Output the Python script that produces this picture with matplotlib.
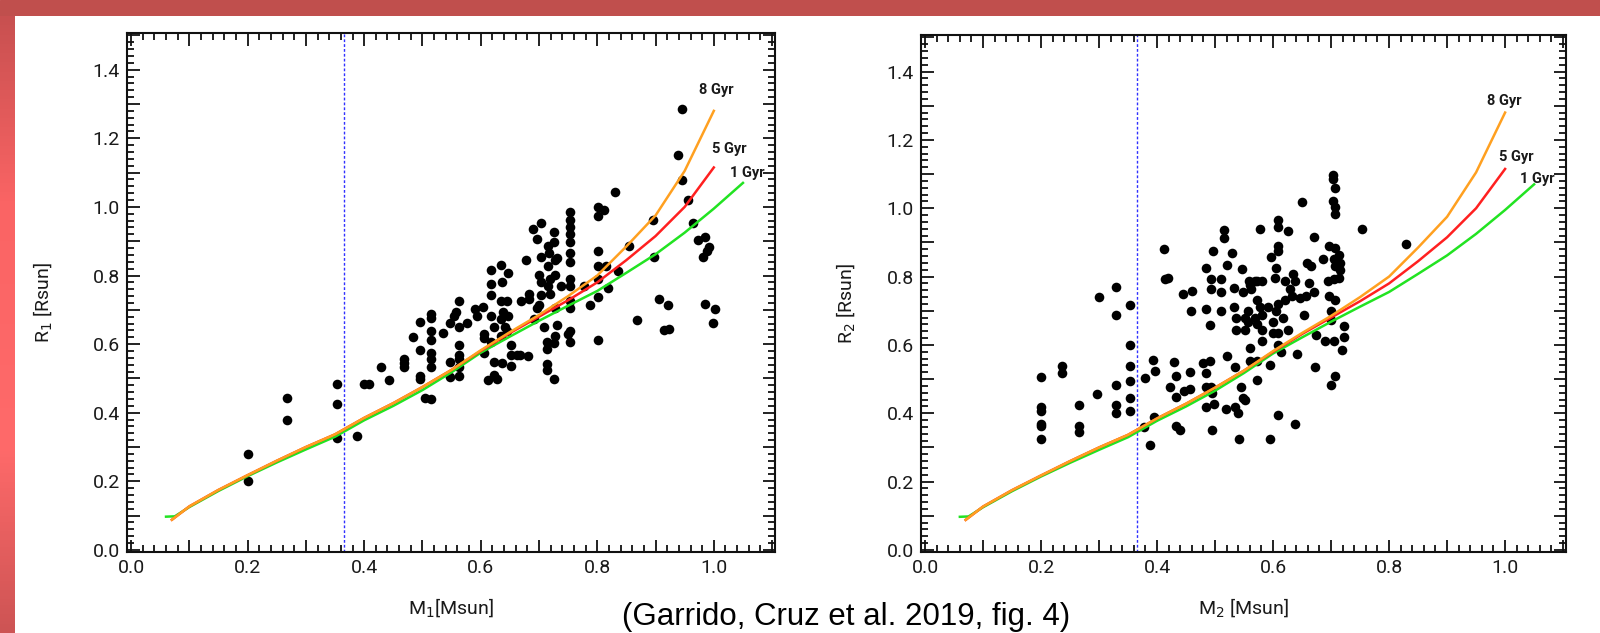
import numpy as np
import matplotlib
matplotlib.use("Agg")
import matplotlib.pyplot as plt
from matplotlib.ticker import MultipleLocator, FuncFormatter

# ---- data ----
# primary: mass M1 [Msun], radius R1 [Rsun]
m1 = [0.200, 0.200, 0.267, 0.267, 0.354, 0.354, 0.354, 0.388, 0.400, 0.408,
      0.429, 0.442, 0.469, 0.469, 0.469, 0.483, 0.495, 0.495, 0.495, 0.495,
      0.505, 0.515, 0.515, 0.515, 0.515, 0.515, 0.515, 0.515, 0.515, 0.535,
      0.548, 0.548, 0.554, 0.558, 0.562, 0.562, 0.562, 0.562, 0.562, 0.562,
      0.562, 0.548, 0.577, 0.591, 0.594, 0.604, 0.606, 0.606, 0.606, 0.612,
      0.618, 0.618, 0.618, 0.618, 0.623, 0.618, 0.622, 0.623, 0.628, 0.635,
      0.636, 0.635, 0.638, 0.635, 0.641, 0.635, 0.636, 0.646, 0.645, 0.646,
      0.645, 0.652, 0.652, 0.652, 0.662, 0.668, 0.669, 0.677, 0.681, 0.683,
      0.683, 0.690, 0.696, 0.704, 0.704, 0.700, 0.704, 0.704, 0.700, 0.696,
      0.692, 0.708, 0.713, 0.713, 0.713, 0.713, 0.715, 0.717, 0.715, 0.719,
      0.715, 0.719, 0.725, 0.725, 0.727, 0.727, 0.727, 0.731, 0.727, 0.725,
      0.725, 0.731, 0.738, 0.750, 0.754, 0.754, 0.754, 0.754, 0.754, 0.754,
      0.754, 0.754, 0.754, 0.754, 0.754, 0.754, 0.754, 0.777, 0.788, 0.802,
      0.802, 0.802, 0.802, 0.802, 0.802, 0.802, 0.812, 0.815, 0.819, 0.831,
      0.835, 0.854, 0.869, 0.896, 0.898, 0.906, 0.914, 0.923, 0.922, 0.938,
      0.945, 0.946, 0.956, 0.965, 0.973, 0.985, 0.981, 0.988, 0.992, 0.985,
      1.002, 0.998]
r1 = [0.280, 0.200, 0.443, 0.378, 0.485, 0.424, 0.327, 0.331, 0.485, 0.483,
      0.532, 0.496, 0.558, 0.544, 0.532, 0.621, 0.582, 0.664, 0.508, 0.499,
      0.443, 0.440, 0.688, 0.677, 0.639, 0.612, 0.575, 0.558, 0.532, 0.631,
      0.663, 0.548, 0.682, 0.693, 0.726, 0.650, 0.596, 0.569, 0.558, 0.532,
      0.507, 0.505, 0.661, 0.701, 0.682, 0.709, 0.629, 0.618, 0.575, 0.494,
      0.817, 0.774, 0.742, 0.682, 0.650, 0.607, 0.548, 0.510, 0.497, 0.831,
      0.780, 0.726, 0.693, 0.672, 0.650, 0.623, 0.546, 0.808, 0.726, 0.682,
      0.639, 0.596, 0.569, 0.535, 0.569, 0.569, 0.726, 0.844, 0.566, 0.747,
      0.731, 0.936, 0.907, 0.952, 0.855, 0.801, 0.780, 0.742, 0.715, 0.704,
      0.672, 0.650, 0.607, 0.585, 0.542, 0.526, 0.887, 0.866, 0.828, 0.790,
      0.769, 0.747, 0.927, 0.898, 0.844, 0.801, 0.704, 0.656, 0.623, 0.602,
      0.499, 0.850, 0.769, 0.629, 0.984, 0.963, 0.941, 0.920, 0.898, 0.866,
      0.839, 0.790, 0.769, 0.726, 0.704, 0.639, 0.607, 0.769, 0.715, 1.000,
      0.974, 0.871, 0.828, 0.790, 0.736, 0.612, 0.990, 0.828, 0.763, 1.044,
      0.812, 0.887, 0.670, 0.963, 0.855, 0.731, 0.642, 0.645, 0.713, 1.151,
      1.079, 1.286, 1.020, 0.952, 0.904, 0.911, 0.855, 0.871, 0.882, 0.718,
      0.701, 0.661]

# secondary: mass M2 [Msun], radius R2 [Rsun]
m2 = [0.200, 0.200, 0.200, 0.200, 0.200, 0.200, 0.236, 0.236, 0.265, 0.265,
      0.265, 0.296, 0.300, 0.329, 0.329, 0.329, 0.329, 0.329, 0.353, 0.353,
      0.353, 0.353, 0.353, 0.353, 0.379, 0.377, 0.388, 0.394, 0.393, 0.397,
      0.412, 0.414, 0.419, 0.422, 0.430, 0.432, 0.432, 0.432, 0.440, 0.445,
      0.446, 0.457, 0.457, 0.458, 0.460, 0.479, 0.485, 0.485, 0.485, 0.485,
      0.485, 0.491, 0.491, 0.493, 0.493, 0.493, 0.495, 0.495, 0.497, 0.499,
      0.510, 0.510, 0.511, 0.515, 0.515, 0.520, 0.521, 0.518, 0.529, 0.532,
      0.532, 0.534, 0.534, 0.536, 0.536, 0.540, 0.542, 0.544, 0.546, 0.548,
      0.548, 0.551, 0.552, 0.552, 0.556, 0.556, 0.559, 0.561, 0.562, 0.561,
      0.561, 0.568, 0.572, 0.568, 0.572, 0.572, 0.577, 0.572, 0.572, 0.577,
      0.581, 0.581, 0.581, 0.581, 0.591, 0.594, 0.595, 0.597, 0.599, 0.599,
      0.603, 0.605, 0.608, 0.605, 0.608, 0.609, 0.609, 0.609, 0.609, 0.609,
      0.609, 0.613, 0.617, 0.621, 0.621, 0.625, 0.625, 0.629, 0.632, 0.634,
      0.638, 0.638, 0.642, 0.646, 0.650, 0.654, 0.658, 0.656, 0.662, 0.666,
      0.670, 0.670, 0.673, 0.674, 0.686, 0.689, 0.695, 0.697, 0.697, 0.699,
      0.700, 0.700, 0.703, 0.703, 0.706, 0.703, 0.706, 0.706, 0.707, 0.705,
      0.707, 0.705, 0.707, 0.707, 0.705, 0.713, 0.715, 0.715, 0.713, 0.723,
      0.723, 0.719, 0.754, 0.829]
r2 = [0.506, 0.417, 0.406, 0.370, 0.363, 0.324, 0.538, 0.517, 0.424, 0.362,
      0.346, 0.457, 0.740, 0.770, 0.688, 0.482, 0.424, 0.400, 0.716, 0.599,
      0.538, 0.495, 0.446, 0.406, 0.504, 0.359, 0.308, 0.389, 0.555, 0.525,
      0.882, 0.792, 0.797, 0.476, 0.549, 0.509, 0.449, 0.362, 0.351, 0.748,
      0.465, 0.520, 0.471, 0.699, 0.759, 0.547, 0.824, 0.705, 0.517, 0.476,
      0.417, 0.658, 0.552, 0.792, 0.765, 0.476, 0.460, 0.351, 0.875, 0.427,
      0.792, 0.699, 0.754, 0.936, 0.914, 0.569, 0.835, 0.413, 0.868, 0.767,
      0.710, 0.536, 0.417, 0.678, 0.645, 0.400, 0.324, 0.476, 0.821, 0.754,
      0.444, 0.438, 0.678, 0.645, 0.699, 0.667, 0.786, 0.775, 0.764, 0.591,
      0.552, 0.786, 0.786, 0.678, 0.661, 0.732, 0.710, 0.552, 0.498, 0.939,
      0.786, 0.688, 0.645, 0.612, 0.710, 0.542, 0.324, 0.857, 0.667, 0.634,
      0.797, 0.824, 0.721, 0.699, 0.395, 0.966, 0.944, 0.890, 0.875, 0.634,
      0.601, 0.580, 0.678, 0.732, 0.786, 0.933, 0.645, 0.765, 0.743, 0.808,
      0.786, 0.370, 0.574, 0.737, 1.017, 0.688, 0.841, 0.743, 0.781, 0.830,
      0.917, 0.754, 0.534, 0.629, 0.851, 0.612, 0.786, 0.743, 0.890, 0.699,
      0.672, 0.482, 1.096, 1.085, 1.058, 1.020, 1.004, 0.982, 0.884, 0.851,
      0.830, 0.792, 0.732, 0.509, 0.612, 0.862, 0.841, 0.819, 0.797, 0.656,
      0.623, 0.585, 0.939, 0.895]

# isochrones (same in both panels)
iso_1gyr_m = [0.06, 0.075, 0.10, 0.15, 0.20, 0.25, 0.30, 0.35, 0.40, 0.45, 0.50,
              0.55, 0.60, 0.65, 0.70, 0.75, 0.80, 0.85, 0.90, 0.95, 1.00, 1.05]
iso_1gyr_r = [0.097, 0.098, 0.125, 0.172, 0.215, 0.255, 0.293, 0.330, 0.378, 0.420, 0.466,
              0.518, 0.575, 0.622, 0.668, 0.712, 0.755, 0.808, 0.862, 0.925, 0.995, 1.070]
iso_m = [0.07, 0.10, 0.15, 0.20, 0.25, 0.30, 0.35, 0.40, 0.45, 0.50,
         0.55, 0.60, 0.65, 0.70, 0.75, 0.80, 0.85, 0.90, 0.95, 1.00]
iso_5gyr_r = [0.088, 0.127, 0.175, 0.218, 0.260, 0.300, 0.337, 0.385, 0.428, 0.475,
              0.525, 0.580, 0.632, 0.680, 0.728, 0.780, 0.845, 0.915, 1.000, 1.115]
iso_8gyr_r = [0.088, 0.127, 0.175, 0.218, 0.260, 0.300, 0.337, 0.385, 0.428, 0.475,
              0.525, 0.582, 0.635, 0.685, 0.740, 0.800, 0.885, 0.975, 1.105, 1.280]
m_limit = 0.365

iso_labels = ['8 Gyr', '5 Gyr', '1 Gyr']
label_pos_1 = [(1.004, 1.342), (1.027, 1.170), (1.058, 1.098)]
label_pos_2 = [(0.998, 1.314), (1.019, 1.151), (1.055, 1.085)]

txt_color = '#1a1a1a'
narrow = ['Roboto', 'DejaVu Sans']

fig = plt.figure(figsize=(16, 6.33), dpi=100)

# slide frame
top_bar = fig.add_axes([0, 1 - 16 / 633, 1, 16 / 633])
top_bar.set_axis_off()
top_bar.add_patch(plt.Rectangle((0, 0), 1, 1, color='#c04f4d', transform=top_bar.transAxes))
side = fig.add_axes([0, 0, 15 / 1600, 1 - 16 / 633])
stops = np.array([[0.0, 200, 80, 80], [0.3, 250, 100, 100], [0.7, 255, 106, 106], [1.0, 205, 84, 84]])
yy = np.linspace(0, 1, 200)
grad = np.stack([np.interp(yy, stops[:, 0], stops[:, k]) for k in (1, 2, 3)], axis=-1) / 255
side.imshow(grad[:, None, :], aspect='auto', origin='upper')
side.set_axis_off()

W, H = 1600, 633
ax1 = fig.add_axes([127 / W, 1 - 552 / H, 648 / W, 519 / H])
ax2 = fig.add_axes([921 / W, 1 - 552 / H, 645 / W, 517 / H])


def style(ax, ms, rs, sub, lpos, ylab_x):
    ax.scatter(ms, rs, s=48, color='black', zorder=3, linewidths=0)
    ax.plot(iso_1gyr_m, iso_1gyr_r, color='#22e322', lw=1.8, zorder=4)
    ax.plot(iso_m, iso_5gyr_r, color='#ff2020', lw=1.8, zorder=5)
    ax.plot(iso_m, iso_8gyr_r, color='#ffa020', lw=1.8, zorder=6)
    ax.axvline(m_limit, color='#3030ff', lw=1.0, ls=(0, (2, 1.5)), zorder=2)
    for lab, (x, y) in zip(iso_labels, lpos):
        ax.text(x, y, lab, fontsize=10.5, fontweight='bold', ha='center', va='center',
                color=txt_color, family=narrow)
    ax.set_xlim(-0.007, 1.105)
    ax.set_ylim(-0.006, 1.507)
    for a in (ax.xaxis, ax.yaxis):
        a.set_major_locator(MultipleLocator(0.1))
        a.set_minor_locator(MultipleLocator(0.02))
        a.set_major_formatter(FuncFormatter(
            lambda v, p: '%.1f' % v if abs(round(v * 10)) % 2 == 0 else ''))
    ax.tick_params(which='both', direction='in', top=True, right=True, width=1.3,
                   colors='#111111', labelcolor=txt_color, labelsize=14, pad=5)
    ax.tick_params(which='major', length=9)
    ax.tick_params(which='minor', length=5)
    for lab in ax.get_xticklabels() + ax.get_yticklabels():
        lab.set_family(narrow)
    for s in ax.spines.values():
        s.set_linewidth(1.5)
        s.set_color('#111111')
    ax.set_xlabel('M$_%s$[Msun]' % sub if sub == '1' else 'M$_%s$ [Msun]' % sub,
                  fontsize=14, color=txt_color, family=narrow, labelpad=14)
    ax.set_ylabel('R$_%s$ [Rsun]' % sub, fontsize=14, color=txt_color, family=narrow)
    ax.yaxis.set_label_coords(ylab_x, 0.48)


style(ax1, m1, r1, '1', label_pos_1, -0.113)
style(ax2, m2, r2, '2', label_pos_2, -0.099)

fig.text(846 / W, 1 - 617 / H, '(Garrido, Cruz et al. 2019, fig. 4)', fontsize=22.5,
         ha='center', va='center', color='black', family=['Liberation Sans', 'DejaVu Sans'])

fig.savefig('out.png', dpi=100, facecolor='white')
